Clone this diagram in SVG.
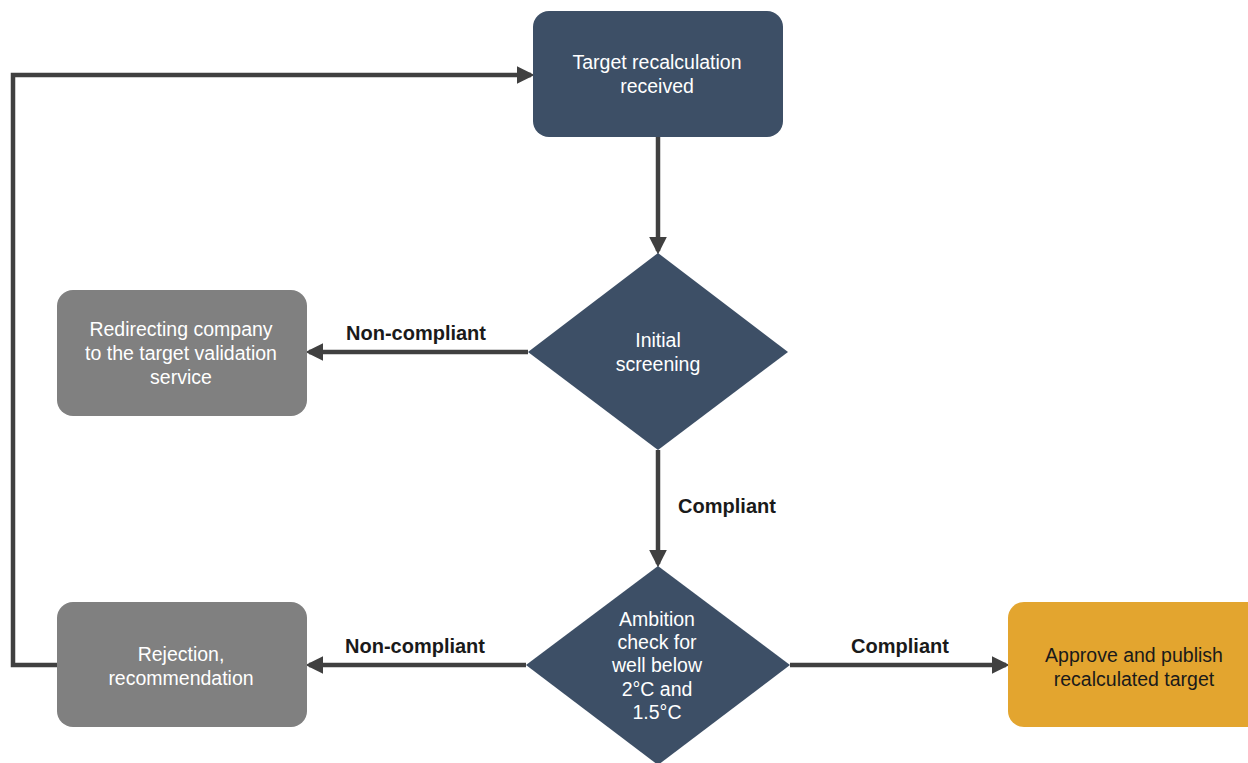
<svg xmlns="http://www.w3.org/2000/svg" width="1248" height="763" viewBox="0 0 1248 763">
<style>
.t{font-family:"Liberation Sans",Arial,sans-serif;font-size:19.5px;text-anchor:middle}
.w{fill:#ffffff}
.d{fill:#1a1a1a}
.lb{font-family:"Liberation Sans",Arial,sans-serif;font-size:20px;font-weight:bold;text-anchor:middle;fill:#1a1a1a}
.c{fill:none;stroke:#404040;stroke-width:4.5}
.navy{fill:#3d4f66}
.gray{fill:#808080}
.gold{fill:#e3a52f}
</style>
<defs>
<marker id="ah" markerWidth="4" markerHeight="4" refX="3.2" refY="2" orient="auto" markerUnits="strokeWidth">
<path d="M0,0 L4,2 L0,4 z" fill="#404040"/>
</marker>
</defs>
<rect width="1248" height="763" fill="#ffffff"/>
<g id="connectors">
<path class="c" d="M658,137 V251" marker-end="url(#ah)"/>
<path class="c" d="M658,450 V564" marker-end="url(#ah)"/>
<path class="c" d="M528,352 H309" marker-end="url(#ah)"/>
<path class="c" d="M526,665 H309" marker-end="url(#ah)"/>
<path class="c" d="M790,665 H1006" marker-end="url(#ah)"/>
<path class="c" d="M57,665 H13 V75 H531" marker-end="url(#ah)"/>
<text class="lb" x="416" y="340">Non-compliant</text>
<text class="lb" x="727" y="513">Compliant</text>
<text class="lb" x="415" y="653">Non-compliant</text>
<text class="lb" x="900" y="653">Compliant</text>
</g>
<g id="n1">
<rect class="navy" x="533" y="11" width="250" height="126" rx="16"/>
<text class="t w" x="657" y="69">Target recalculation</text>
<text class="t w" x="657" y="93">received</text>
</g>
<g id="n2">
<polygon class="navy" points="658,253 788,352 658,450 528,352"/>
<text class="t w" x="658" y="347">Initial</text>
<text class="t w" x="658" y="371">screening</text>
</g>
<g id="n3">
<rect class="gray" x="57" y="290" width="250" height="126" rx="16"/>
<text class="t w" x="181" y="336">Redirecting company</text>
<text class="t w" x="181" y="360">to the target validation</text>
<text class="t w" x="181" y="384">service</text>
</g>
<g id="n4">
<polygon class="navy" points="658,566 790,665 658,765 526,665"/>
<text class="t w" x="657" y="626">Ambition</text>
<text class="t w" x="657" y="649">check for</text>
<text class="t w" x="657" y="672">well below</text>
<text class="t w" x="657" y="696">2°C and</text>
<text class="t w" x="657" y="719">1.5°C</text>
</g>
<g id="n5">
<rect class="gray" x="57" y="602" width="250" height="125" rx="16"/>
<text class="t w" x="181" y="661">Rejection,</text>
<text class="t w" x="181" y="685">recommendation</text>
</g>
<g id="n6">
<rect class="gold" x="1008" y="602" width="260" height="125" rx="16"/>
<text class="t d" x="1134" y="662">Approve and publish</text>
<text class="t d" x="1134" y="686">recalculated target</text>
</g>
</svg>
